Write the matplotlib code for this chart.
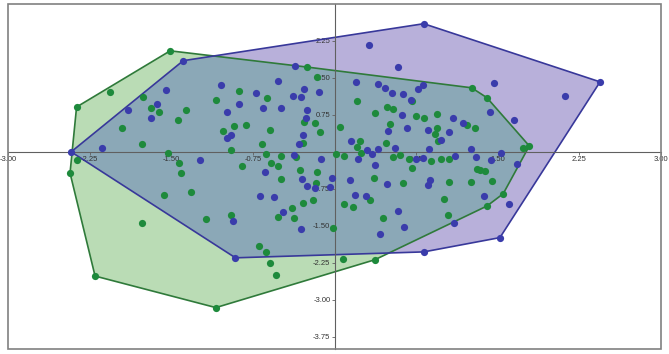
import matplotlib.pyplot as plt
from matplotlib.patches import Polygon, Rectangle

# group 1 (blue) observations
blue_x = [-2.42, -1.39, 0.82, 2.44, 1.52, 0.82, -0.91, 0.32, 0.58, 1.47,
          2.12, 1.43, 1.65, 1.68, 1.53, -1.55, -1.63, -1.90, -1.69, -2.14,
          -1.04, -0.99, -0.95, -0.99, -1.24, -0.88, -0.72, -0.52, -0.66, -0.49,
          -0.38, -0.31, -0.28, -0.25, -0.26, -0.14, -0.36, -0.29, -0.33, -0.37,
          -0.12, -0.64, 0.20, 0.40, 0.15, 0.30, 0.34, 0.40, 0.22, 0.81,
          0.77, 0.46, 0.53, 0.63, 0.70, 0.62, 1.09, 1.18, 0.67, 0.86,
          1.05, 0.49, 0.98, 0.56, 0.87, 1.25, 1.11, 1.30, 0.81, 0.75,
          1.44, 0.37, -0.30, -0.25, -0.18, -0.04, -0.02, 0.14, 0.19, 0.29,
          -0.68, -0.56, -0.47, -0.93, -0.31, 0.42, 0.48, 0.86, 0.88, 1.37,
          1.60, 0.58, 0.64, 1.10]
blue_y = [0.00, 1.85, 2.60, 1.42, -1.74, -2.03, -2.15, 2.17, 1.72, 1.40,
          1.14, 0.81, 0.65, -0.24, -0.02, 1.26, 0.97, 0.85, 0.69, 0.08,
          1.36, 0.81, 0.34, 0.28, -0.16, 0.97, 1.20, 1.44, 0.89, 0.89,
          1.14, 1.12, 1.28, 0.85, 0.69, 1.22, 1.74, 0.34, 0.16, -0.06,
          -0.14, -0.41, 1.42, 1.38, 0.22, 0.04, -0.04, 0.06, -0.14, 1.36,
          1.28, 1.30, 1.20, 1.18, 1.05, 0.75, 0.69, 0.59, 0.49, 0.45,
          0.41, 0.43, 0.24, 0.08, 0.06, 0.06, -0.08, -0.10, -0.12, -0.14,
          -0.16, -0.26, -0.55, -0.69, -0.73, -0.71, -0.53, -0.57, -0.87, -0.89,
          -0.89, -0.91, -1.22, -1.40, -1.56, -1.66, -0.65, -0.67, -0.57, -0.89,
          -1.05, -1.20, -1.52, -1.44]

# group 2 (green) observations
green_x = [-1.51, -2.06, -2.37, -1.76, -1.69, -1.61, -1.36, -1.44, -1.95, -1.77,
           -1.09, -1.02, -1.53, -0.88, -0.62, -0.92, -0.81, -0.59, -0.67, -0.95,
           -0.63, -0.49, -0.35, -0.28, -0.18, -0.29, -0.13, -0.16, -0.25, -1.43,
           -1.41, -0.85, -0.58, -0.52, -0.32, -0.16, -2.43, -2.37, 0.21, 0.37,
           0.05, 0.01, 0.09, 0.23, 0.21, 0.24, 1.26, 1.40, 0.71, 0.48,
           0.54, 0.75, 0.82, 0.94, 0.51, 0.94, 0.92, 1.22, 1.29, 0.95,
           0.47, 1.79, 1.73, 0.60, 0.54, 0.68, 0.98, 1.05, 0.89, -1.57,
           -1.32, -1.77, -1.18, -0.95, -0.69, -0.63, -0.59, -0.54, -0.49, -0.39,
           -0.37, -0.52, -0.29, -0.20, -0.17, -2.20, -1.09, -0.01, 0.09, 0.17,
           0.33, 0.36, 0.45, 0.08, 0.37, 0.71, 1.31, 1.34, 1.38, 0.63,
           1.05, 1.25, 1.45, 1.01, 1.04, 1.40, 1.55]
green_y = [2.05, 1.22, 0.91, 1.12, 0.89, 0.81, 0.85, 0.65, 0.49, 0.16,
           1.05, 0.43, -0.02, 1.24, 1.10, 0.53, 0.55, 0.45, 0.16, 0.04,
           -0.04, -0.08, -0.10, 0.61, 0.59, 0.18, 0.41, 1.52, 1.72, -0.22,
           -0.43, -0.28, -0.22, -0.28, -0.37, -0.41, -0.43, -0.16, 1.03, 0.79,
           0.51, -0.04, -0.08, 0.22, 0.10, -0.02, 1.30, 1.10, 1.03, 0.91,
           0.87, 0.73, 0.69, 0.77, 0.57, 0.49, 0.37, 0.55, 0.49, 0.22,
           0.18, 0.12, 0.08, -0.06, -0.10, -0.14, -0.14, -0.14, -0.18, -0.87,
           -0.81, -1.44, -1.36, -1.28, -1.91, -2.03, -2.25, -2.49, -0.55, -1.14,
           -1.34, -1.32, -1.03, -0.97, -0.63, -2.52, -3.16, -1.54, -1.05, -1.12,
           -0.97, -0.53, -1.34, -2.17, -2.19, -0.32, -0.34, -0.37, -0.39, -0.63,
           -0.61, -0.61, -0.59, -0.95, -1.28, -1.10, -0.85]

xticks = [-3.00, -2.25, -1.50, -0.75, 0.75, 1.50, 2.25, 3.00]
yticks = [-3.75, -3.00, -2.25, -1.50, -0.75, 0.75, 1.50, 2.25]


def convex_hull(xs, ys):
    pts = sorted(set(zip(xs, ys)))

    def cross(o, a, b):
        return (a[0] - o[0]) * (b[1] - o[1]) - (a[1] - o[1]) * (b[0] - o[0])

    lower = []
    for p in pts:
        while len(lower) >= 2 and cross(lower[-2], lower[-1], p) <= 0:
            lower.pop()
        lower.append(p)
    upper = []
    for p in reversed(pts):
        while len(upper) >= 2 and cross(upper[-2], upper[-1], p) <= 0:
            upper.pop()
        upper.append(p)
    return lower[:-1] + upper[:-1]


fig = plt.figure(figsize=(6.69, 3.54), dpi=100)
ax = fig.add_axes([8 / 669, 1 - 349 / 354, 653 / 669, 345 / 354])

green_hull = convex_hull(green_x, green_y)
blue_hull = convex_hull(blue_x, blue_y)

# fills: green only, blue only, and the overlap
green_fill = Polygon(green_hull, closed=True, facecolor='#badcb5',
                     edgecolor='none', zorder=1)
ax.add_patch(green_fill)
ax.add_patch(Polygon(blue_hull, closed=True, facecolor='#b8b0da',
                     edgecolor='none', zorder=1.1))
overlap = Polygon(blue_hull, closed=True, facecolor='#8ba8b7',
                  edgecolor='none', zorder=1.2)
ax.add_patch(overlap)
overlap.set_clip_path(green_fill)

# hull outlines
ax.add_patch(Polygon(green_hull, closed=True, fill=False, edgecolor='#2f7a3a',
                     linewidth=1.2, zorder=2))
ax.add_patch(Polygon(blue_hull, closed=True, fill=False, edgecolor='#38389a',
                     linewidth=1.2, zorder=2.1))

ax.scatter(green_x, green_y, s=27, color='#1e8a3c', zorder=4, linewidths=0)
ax.scatter(blue_x, blue_y, s=27, color='#3a3cab', zorder=4, linewidths=0)

ax.set_xlim(-3, 3)
ax.set_ylim(-4, 3)

for side in ['top', 'right']:
    ax.spines[side].set_visible(False)
ax.spines['left'].set_position(('data', 0))
ax.spines['bottom'].set_position(('data', 0))
ax.spines['left'].set_color('#606060')
ax.spines['bottom'].set_color('#606060')
ax.spines['left'].set_zorder(3)
ax.spines['bottom'].set_zorder(3)
ax.add_patch(Rectangle((0, 0), 1, 1, transform=ax.transAxes, fill=False,
                       edgecolor='#808080', linewidth=1.2, zorder=5, clip_on=False))

ax.set_xticks(xticks)
ax.set_yticks(yticks)
ax.set_xticklabels(['%.2f' % v for v in xticks])
ax.set_yticklabels(['%.2f' % v for v in yticks])
ax.tick_params(axis='both', labelsize=5.5, length=2, width=0.6, pad=1,
               color='#606060', labelcolor='#333333')
for lab in ax.get_xticklabels() + ax.get_yticklabels():
    lab.set_family('Liberation Sans')

fig.savefig('out.png', dpi=100)
